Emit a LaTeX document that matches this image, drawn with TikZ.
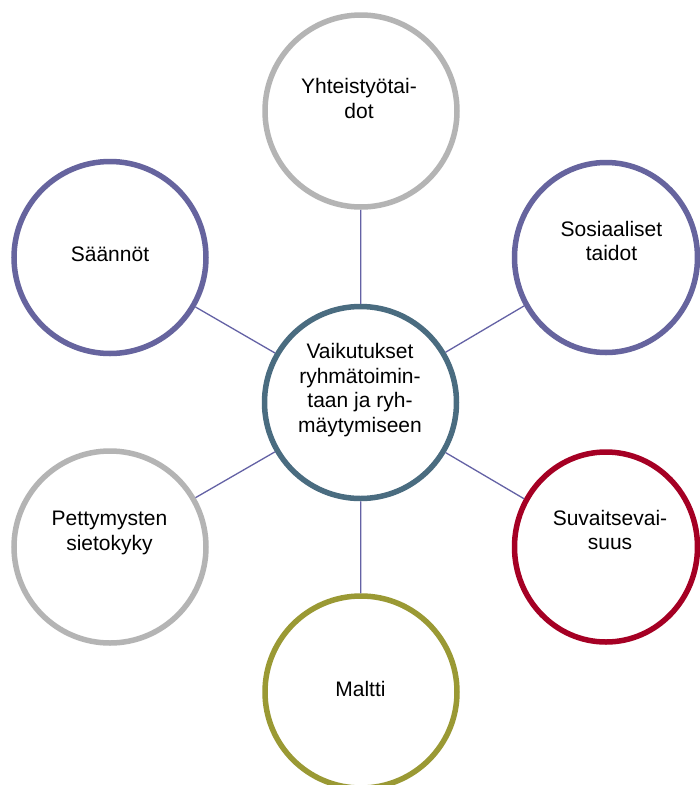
\documentclass[tikz,border=0pt]{standalone}
\usepackage{fontspec}
\setmainfont{Liberation Sans}
\usetikzlibrary{shapes.geometric}
\definecolor{ringC}{RGB}{74,108,128}
\definecolor{ringP}{RGB}{102,100,158}
\definecolor{ringG}{RGB}{180,180,180}
\definecolor{ringR}{RGB}{165,0,36}
\definecolor{ringO}{RGB}{154,153,52}
\definecolor{conn}{RGB}{100,98,165}
\begin{document}
\begin{tikzpicture}[x=1pt,y=-1pt,
  ring/.style={circle,draw,line width=5.5pt,minimum size=192pt,inner sep=0pt,fill=white},
  oval/.style={ellipse,draw,line width=5.5pt,minimum width=183pt,minimum height=190pt,inner sep=0pt,fill=white},
  lbl/.style={align=center,anchor=base,inner sep=0pt,font=\fontsize{21}{24.5}\selectfont},
  link/.style={draw=conn,line width=1.3pt}]
\useasboundingbox[fill=white] (0,0) rectangle (700,785);
\node[ring,draw=ringC] (c) at (360.5,402.5) {};
\node[ring,draw=ringG] (t) at (361,111) {};
\node[oval,draw=ringP] (ur) at (606,257.5) {};
\node[oval,draw=ringR] (lr) at (606,547) {};
\node[ring,draw=ringO] (b) at (361,692) {};
\node[ring,draw=ringG] (ll) at (110,547) {};
\node[ring,draw=ringP] (ul) at (110,257.5) {};
\foreach \n in {t,ur,lr,b,ll,ul} \draw[link] (c) -- (\n);
% anchor=base refers to the baseline of the last line
\node[lbl] (tc) at (360,432) {Vaikutukset\\ryhmätoimin-\\taan ja ryh-\\mäytymiseen};
\node[lbl] (tt) at (359,118) {Yhteistyötai-\\dot};
\node[lbl] (tur) at (611.5,260.5) {Sosiaaliset\\taidot};
\node[lbl] (tlr) at (610,549.5) {Suvaitsevai-\\suus};
\node[lbl] (tb) at (360.5,696) {Maltti};
\node[lbl] (tll) at (109.5,550) {Pettymysten\\sietokyky};
\node[lbl] (tul) at (110,261) {Säännöt};
\end{tikzpicture}
\end{document}
